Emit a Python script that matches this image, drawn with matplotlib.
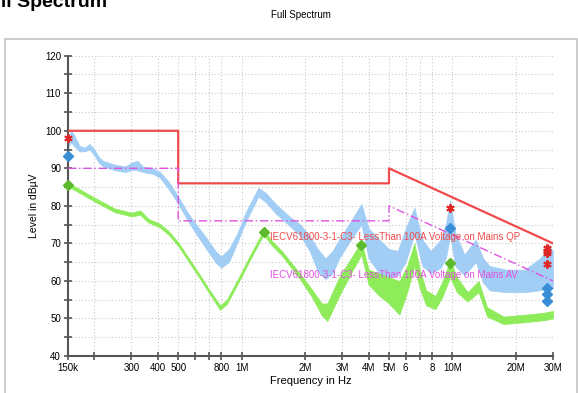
import numpy as np
import matplotlib
matplotlib.use("Agg")
import matplotlib.pyplot as plt
from matplotlib.patches import Rectangle

plt.rcParams["font.family"] = ["Liberation Sans", "DejaVu Sans"]

# limit lines (MHz, dBuV)
qp_lim_f = [0.15, 0.5, 0.5, 5.0, 5.0, 30.0]
qp_lim_v = [100, 100, 86, 86, 90, 70]
av_lim_f = [0.15, 0.5, 0.5, 5.0, 5.0, 30.0]
av_lim_v = [90, 90, 76, 76, 80, 60]

# peak trace, read as a lower / upper envelope of the noisy band
pk_f = [0.15, 0.155, 0.16, 0.17, 0.18, 0.19, 0.20, 0.21, 0.22, 0.25, 0.28, 0.30,
        0.32, 0.34, 0.38, 0.41, 0.45, 0.50, 0.55, 0.60, 0.68, 0.75, 0.80, 0.87,
        0.95, 1.05, 1.2, 1.3, 1.45, 1.7, 1.9, 2.1, 2.3, 2.5, 2.7, 2.9, 3.3, 3.7,
        4.0, 4.5, 5.0, 5.5, 6.0, 6.6, 7.2, 7.9, 8.8, 9.3, 9.75, 10.3, 11.4,
        12.9, 14.0, 15.0, 18.0, 22.0, 26.0, 29.0, 30.0]
pk_lo = [95.5, 97, 96, 94.5, 94.5, 95, 93.5, 91.5, 90.5, 89.5, 89, 89.5,
         89.5, 89, 88.5, 87.5, 84.5, 80.5, 76.5, 73, 68.5, 65, 63.5, 65,
         70, 76, 82.5, 81, 78, 74.5, 72, 68, 62.5, 60.5, 62, 66, 71, 75,
         66, 62, 61, 61.5, 65, 72.5, 64, 62, 63.5, 66, 72, 64, 61.5,
         65, 59.5, 57.5, 57, 57, 57.5, 58, 58]
pk_hi = [97.5, 100, 99, 96, 95.5, 96.5, 95, 93, 92, 91, 90.5, 91.5,
         92, 90.5, 90, 89, 86.5, 82.5, 78.5, 75.5, 71.5, 68, 66.5, 68.5,
         72.5, 78.5, 84.8, 83.5, 80.5, 77, 75, 72, 68.5, 66, 68, 71, 76, 80.5,
         74, 71, 68.5, 68, 74, 79.5, 71, 68, 71, 75, 81.5, 73, 67,
         71, 66, 64, 63, 63, 66, 69, 68]

# average trace envelope
av_f = [0.15, 0.2, 0.25, 0.3, 0.33, 0.36, 0.41, 0.45, 0.5, 0.55, 0.63, 0.7,
        0.79, 0.85, 0.98, 1.1, 1.27, 1.4, 1.55, 1.9, 2.15, 2.4, 2.55, 2.9,
        3.3, 3.7, 4.0, 4.5, 5.0, 5.6, 6.1, 6.6, 7.0, 7.5, 8.3, 9.0, 9.75,
        10.5, 11.8, 13.3, 14.6, 17.5, 22.0, 27.0, 30.0]
av_lo = [85.2, 81.2, 78.3, 77.2, 77.6, 75.6, 74.2, 72.3, 69.3, 65.8, 60.8, 56.8,
         52.3, 53.8, 60.3, 65.8, 72.3, 69.3, 66.8, 60.3, 55.8, 50.8, 49.3, 56,
         62, 67, 59, 56, 54, 51, 57, 64, 58, 53.5, 52.5, 56, 61,
         57, 54.5, 57, 50.5, 48.5, 49, 49.5, 50]
av_hi = [86.2, 82.2, 79.3, 78.2, 78.8, 76.6, 75.2, 73.3, 70.3, 66.8, 61.8, 57.8,
         53.5, 55, 61.5, 67, 73.5, 70.5, 68, 61.8, 57.8, 54, 54, 61,
         66, 70.5, 63, 62, 61, 60, 64, 70, 63, 57.5, 56, 60, 65.5,
         61, 57, 60, 53, 50.5, 51, 51.5, 52]

# final measurement markers
qp_f = [0.15, 9.75, 28.0, 28.0, 28.0, 28.0]
qp_v = [98.0, 79.5, 68.8, 68.0, 67.5, 64.5]
pkd_f = [0.15, 9.75, 28.0, 28.0, 28.0]
pkd_v = [93.2, 74.0, 58.0, 56.4, 54.6]
avd_f = [0.15, 1.27, 3.7, 9.75]
avd_v = [85.6, 73.1, 69.5, 64.8]

x_ticks = [0.15, 0.2, 0.3, 0.4, 0.5, 0.6, 0.7, 0.8, 1, 2, 3, 4, 5, 6, 7, 8, 10, 20, 30]
x_labels = ["150k", "", "300", "400", "500", "", "", "800", "1M", "2M", "3M", "4M",
            "5M", "6", "", "8", "10M", "20M", "30M"]

RED = "#f04a4a"
MAGENTA = "#e052e0"
BLUE = "#a2cdf5"
GREEN = "#8eec5a"

MHz = 1e6

fig = plt.figure(figsize=(5.78, 3.93), dpi=100)
fig.patches.append(Rectangle((5 / 578, -0.1), 572 / 578, 1.1 - 39 / 393,
                             transform=fig.transFigure, fill=False,
                             edgecolor="#c4c4c4", lw=1.2))
fig.text(107 / 578, 1 - 7 / 393, "Full Spectrum", ha="right", va="baseline",
         fontsize=14, fontweight="bold")
fig.text(0.52, 1 - 15 / 393, "Full Spectrum", ha="center", va="center", fontsize=7)

ax = fig.add_axes([68 / 578, 1 - 356 / 393, 485 / 578, 300.3 / 393])
ax.set_xscale("log")

ax.fill_between(np.array(pk_f) * MHz, pk_lo, pk_hi, color=BLUE, lw=0.5,
                edgecolor=BLUE, zorder=2)
ax.fill_between(np.array(av_f) * MHz, av_lo, av_hi, color=GREEN, lw=0.5,
                edgecolor=GREEN, zorder=3)
ax.plot(np.array(qp_lim_f) * MHz, qp_lim_v, color=RED, lw=1.6, zorder=4)
ax.plot(np.array(av_lim_f) * MHz, av_lim_v, color=MAGENTA, lw=1.0,
        ls=(0, (6, 2, 1, 2)), zorder=4)

ax.plot(np.array(qp_f) * MHz, qp_v, ls="none", marker=(6, 2, 0), ms=6,
        mec="#e02828", mew=1.4, zorder=6, clip_on=False)
ax.plot(np.array(pkd_f) * MHz, pkd_v, ls="none", marker="D", ms=5.5,
        mfc="#3a8ed6", mec="#3a8ed6", zorder=6, clip_on=False)
ax.plot(np.array(avd_f) * MHz, avd_v, ls="none", marker="D", ms=5.5,
        mfc="#5cba2c", mec="#5cba2c", zorder=6, clip_on=False)

ax.text(1.36 * MHz, 71.8, "IECV61800-3-1-C3- LessThan 100A Voltage on Mains QP",
        color=RED, fontsize=7, va="center", ha="left", zorder=7)
ax.text(1.36 * MHz, 61.7, "IECV61800-3-1-C3- LessThan 100A Voltage on Mains AV",
        color=MAGENTA, fontsize=7, va="center", ha="left", zorder=7)

ax.set_xlim(0.15 * MHz, 30 * MHz)
ax.set_ylim(40, 120)
ax.set_xticks(np.array(x_ticks) * MHz)
ax.set_xticklabels(x_labels)
ax.xaxis.set_minor_locator(matplotlib.ticker.NullLocator())
ax.set_yticks(np.arange(40, 121, 10))
ax.set_yticks(np.arange(45, 120, 10), minor=True)

ax.grid(True, which="both", color="#c8c8c8", ls=(0, (1, 2)), lw=0.8)
for s in ("top", "right"):
    ax.spines[s].set_visible(False)
for s in ("left", "bottom"):
    ax.spines[s].set_color("#555555")
    ax.spines[s].set_linewidth(1.5)
ax.tick_params(which="both", direction="inout", length=6, width=1.2,
               color="#555555", labelsize=7, pad=2)

ax.set_xlabel("Frequency in Hz", fontsize=8, labelpad=2)
ax.set_ylabel("Level in dBµV", fontsize=7.5, labelpad=4)

fig.savefig("out.png", dpi=100)
